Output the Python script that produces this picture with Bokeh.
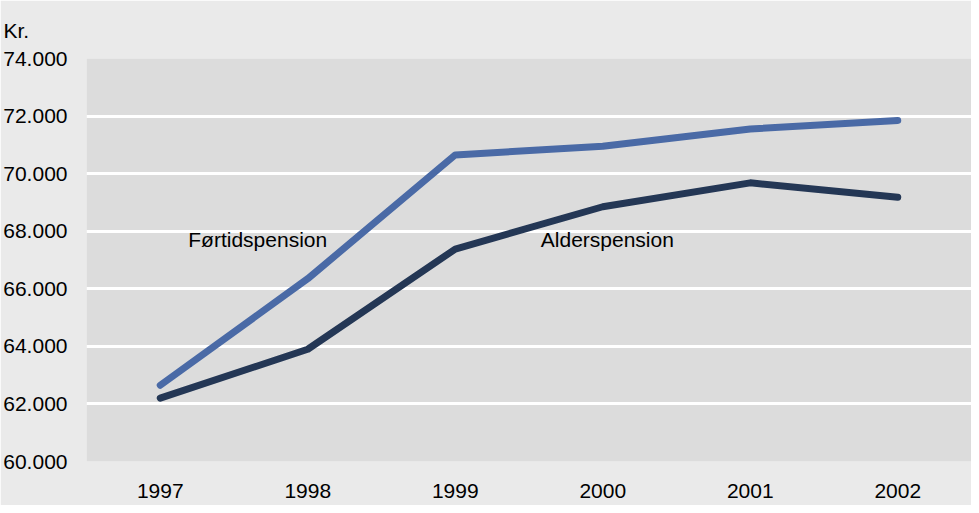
from bokeh.plotting import figure
from bokeh.models import FixedTicker, Label, Range1d
from bokeh.embed import file_html
from bokeh.resources import INLINE

years = ["1997", "1998", "1999", "2000", "2001", "2002"]
foertid = [62650, 66350, 70650, 70950, 71550, 71850]
alders = [62200, 63900, 67380, 68850, 69680, 69180]
y_ticks = [60000, 62000, 64000, 66000, 68000, 70000, 72000, 74000]
y_tick_labels = ["60.000", "62.000", "64.000", "66.000", "68.000", "70.000", "72.000", "74.000"]
series_names = ["Førtidspension", "Alderspension"]
unit_label = "Kr."

FONT = "Liberation Sans"
FS = "21px"
xs = [i + 0.5 for i in range(len(years))]

p = figure(width=971, height=505, output_backend="svg", toolbar_location=None,
           x_range=Range1d(0, len(years)), y_range=Range1d(60000, 74000),
           min_border_left=82, min_border_right=0, min_border_top=58, min_border_bottom=44,
           title=unit_label)
p.background_fill_color = "#DCDCDC"
p.border_fill_color = "#EAEAEA"
p.outline_line_color = None

p.title.text_font = FONT
p.title.text_font_size = FS
p.title.text_font_style = "normal"
p.title.text_color = "black"
p.title.align = "left"
p.title.offset = -83
p.title.standoff = 33

p.xgrid.grid_line_color = None
p.ygrid.grid_line_color = "white"
p.ygrid.grid_line_width = 3
p.ygrid.ticker = FixedTicker(ticks=y_ticks)

p.yaxis.ticker = FixedTicker(ticks=y_ticks)
p.yaxis.major_label_overrides = {t: l for t, l in zip(y_ticks, y_tick_labels)}
p.xaxis.ticker = FixedTicker(ticks=xs)
p.xaxis.major_label_overrides = {x: y for x, y in zip(xs, years)}
for ax in (p.xaxis, p.yaxis):
    ax.axis_line_color = None
    ax.major_tick_line_color = None
    ax.minor_tick_line_color = None
    ax.major_label_text_font = FONT
    ax.major_label_text_font_size = FS
    ax.major_label_text_color = "black"
p.yaxis.major_label_standoff = 13
p.xaxis.major_label_standoff = 16

p.line(xs, foertid, line_color="#4A6AA6", line_width=7, line_cap="round", line_join="round")
p.line(xs, alders, line_color="#243755", line_width=7, line_cap="round", line_join="round")

p.add_layout(Label(x=0.69, y=67720, text=series_names[0], text_font=FONT, text_font_size=FS,
                   text_color="black", text_baseline="middle"))
p.add_layout(Label(x=3.08, y=67720, text=series_names[1], text_font=FONT, text_font_size=FS,
                   text_color="black", text_baseline="middle"))

open("out.html", "w").write(file_html(p, INLINE))
